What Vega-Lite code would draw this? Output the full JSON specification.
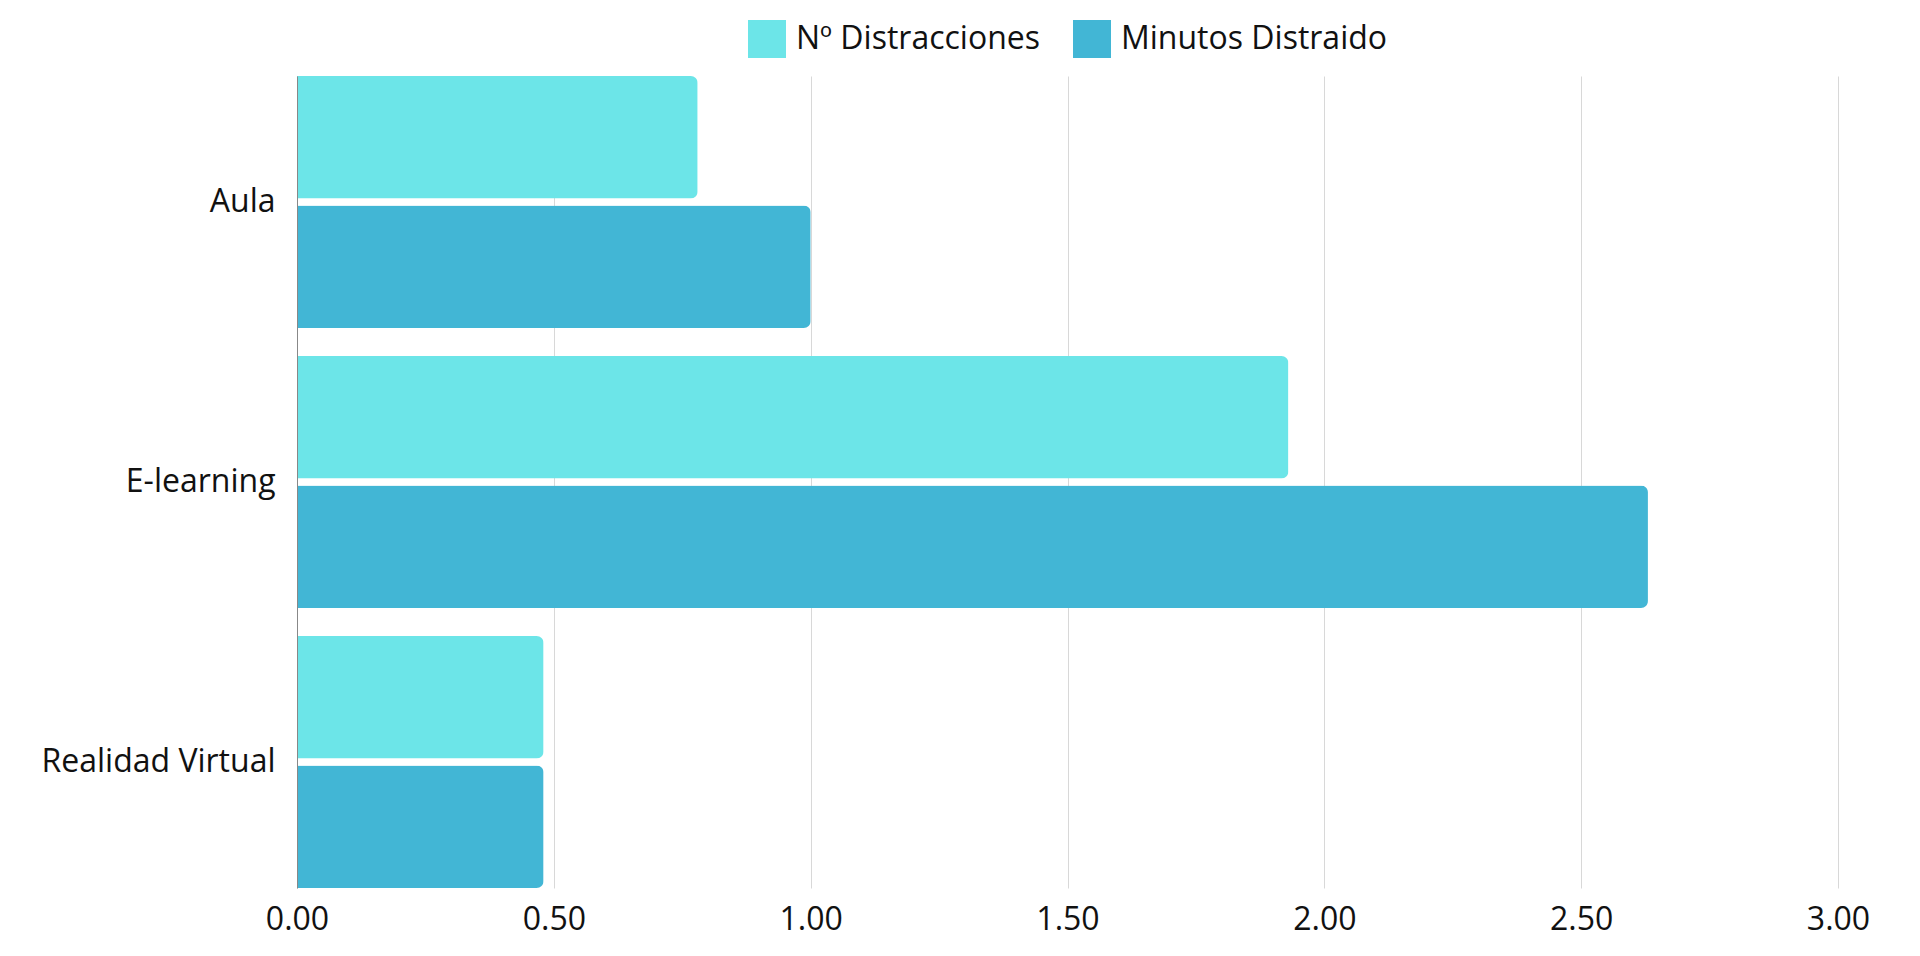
{
  "$schema": "https://vega.github.io/schema/vega-lite/v6.json",
  "width": 1541,
  "height": 812,
  "padding": {"left": 40, "top": 20, "right": 0, "bottom": 6},
  "background": "white",
  "data": {
    "values": [
      {"entorno": "Aula", "serie": "Nº Distracciones", "valor": 0.78},
      {"entorno": "Aula", "serie": "Minutos Distraido", "valor": 1.0},
      {"entorno": "E-learning", "serie": "Nº Distracciones", "valor": 1.93},
      {"entorno": "E-learning", "serie": "Minutos Distraido", "valor": 2.63},
      {"entorno": "Realidad Virtual", "serie": "Nº Distracciones", "valor": 0.48},
      {"entorno": "Realidad Virtual", "serie": "Minutos Distraido", "valor": 0.48}
    ]
  },
  "mark": {"type": "bar", "cornerRadiusEnd": 7},
  "encoding": {
    "y": {
      "field": "entorno",
      "type": "nominal",
      "sort": ["Aula", "E-learning", "Realidad Virtual"],
      "title": null,
      "scale": {"paddingInner": 0.1, "paddingOuter": 0},
      "axis": {
        "ticks": false,
        "labelPadding": 22,
        "labelLimit": 0,
        "domainColor": "#888888",
        "grid": false,
        "zindex": 1
      }
    },
    "yOffset": {
      "field": "serie",
      "type": "nominal",
      "sort": ["Nº Distracciones", "Minutos Distraido"],
      "scale": {"paddingInner": 0.055, "paddingOuter": 0}
    },
    "x": {
      "field": "valor",
      "type": "quantitative",
      "title": null,
      "scale": {"domain": [0, 3]},
      "axis": {
        "values": [0, 0.5, 1, 1.5, 2, 2.5, 3],
        "format": ".2f",
        "domain": false,
        "ticks": false,
        "labelFlush": false,
        "labelPadding": 16,
        "gridColor": "#d8d8d8"
      }
    },
    "color": {
      "field": "serie",
      "type": "nominal",
      "sort": ["Nº Distracciones", "Minutos Distraido"],
      "title": null,
      "scale": {
        "domain": ["Nº Distracciones", "Minutos Distraido"],
        "range": ["#6ce5e8", "#42b6d5"]
      },
      "legend": {
        "orient": "top",
        "direction": "horizontal",
        "symbolType": "square",
        "symbolSize": 1444,
        "symbolStrokeWidth": 0,
        "labelFontSize": 32,
        "labelLimit": 0,
        "labelColor": "#111111",
        "labelOffset": 10,
        "columnPadding": 33,
        "offset": 18
      }
    }
  },
  "config": {
    "font": "Open Sans",
    "view": {"stroke": null},
    "axis": {"labelFontSize": 32, "labelColor": "#111111"},
    "legend": {"layout": {"top": {"anchor": "middle"}}}
  }
}
